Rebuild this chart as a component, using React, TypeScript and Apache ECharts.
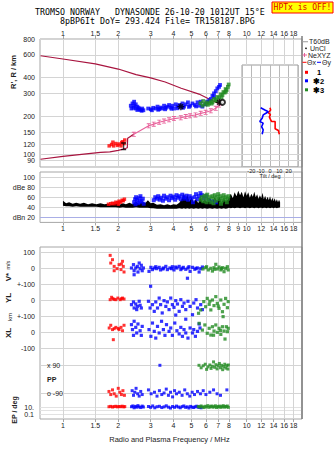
import React, { useEffect, useRef } from "react";
import * as echarts from "echarts";

type P = [number, number];

// ---------- axis ticks ----------
const freqTicks = [1, 1.5, 2, 3, 4, 5, 6, 7, 8, 10, 12, 14, 16, 18];
const freqTicksAmp = [1, 1.5, 2, 3, 4, 5, 6, 7, 8, 9, 10, 12, 14, 16, 18];
const rangeTicks = [80, 90, 100, 120, 150, 200, 300, 400, 600, 800];
const ampTicks = [20, 40, 60, 80, 100];

// ---------- height traces (MHz, km) ----------
const virtualTrace: P[] = [[0.755, 592], [1.0, 558], [1.5, 512], [2.0, 466], [2.5, 422], [3.0, 397], [3.6, 369], [4.4, 330], [5.5, 297], [6.4, 267], [7.06, 250], [7.15, 253]];
const profileTrace: P[] = [[0.755, 92], [1.0, 97], [1.3, 101], [1.6, 104], [1.8, 105], [2.0, 108], [2.2, 112], [2.24, 113], [2.25, 134], [2.35, 140], [2.43, 144]];
const neXYZ: P[] = [[2.43, 144], [2.93, 168], [3.12, 173], [3.34, 179], [3.55, 183], [3.78, 187], [4.02, 191], [4.38, 194], [4.66, 198], [4.92, 201], [5.26, 204], [5.62, 210], [5.98, 214], [6.38, 220], [6.79, 230], [7.06, 244], [7.15, 253]];
const peakMarks: P[] = [[4.38, 237], [7.1, 256]];
const peakRing: P[] = [[7.38, 256]];
const layerMark: P[] = [[2.14, 116]];

// ---------- echoes: range (MHz, km) ----------
const rangeRed: P[] = [[1.785, 117], [1.84, 120], [1.87, 125], [1.886, 117], [1.94, 122], [1.98, 118], [2.02, 121], [2.07, 117], [2.09, 124], [2.11, 126], [2.15, 122], [2.17, 130]];
const rangeBlue: P[] = [
  [2.34, 241], [2.39, 251], [2.44, 259], [2.49, 247], [2.42, 232], [2.36, 229], [2.49, 229], [2.54, 237], [2.6, 227], [2.65, 223], [2.7, 229], [2.74, 222], [2.54, 223], [2.44, 241], [2.58, 232], [2.68, 220],
  [2.91, 229], [3.01, 226], [3.1, 232], [3.2, 229], [3.27, 237], [3.34, 227], [3.4, 233], [3.47, 229], [3.55, 241], [3.63, 232], [3.7, 237], [3.78, 244], [3.86, 233], [3.94, 241], [4.02, 229], [4.11, 247], [4.2, 237], [4.29, 244], [4.38, 238], [4.47, 251], [4.56, 237], [4.66, 247], [4.79, 256], [4.92, 241], [5.07, 251], [5.22, 244], [5.4, 256], [5.51, 241], [5.62, 259], [5.74, 237], [5.98, 247],
  [3.05, 222], [3.3, 224], [3.6, 226], [3.9, 228], [4.2, 230], [4.5, 232], [4.85, 236], [5.3, 238],
  [6.1, 259], [6.25, 265], [6.38, 272], [6.51, 288], [6.64, 282], [6.64, 301], [6.79, 313], [6.92, 329], [7.07, 338], [7.16, 350],
];
const rangeGreen: P[] = [[5.6, 252], [5.74, 241], [5.8, 262], [5.92, 247], [6.07, 256], [6.15, 245], [6.25, 251], [6.38, 262], [6.45, 250], [6.51, 256], [6.64, 272], [6.79, 267], [6.85, 262], [6.92, 282], [7.07, 278], [7.23, 296], [7.3, 280], [7.38, 292], [7.47, 308], [7.59, 305], [7.68, 325], [7.7, 310], [7.78, 320], [7.9, 338], [7.98, 353]];

// ---------- tilt (deg, km) ----------
const tiltX: P[] = [[0, 232], [0.7, 223], [-1.8, 212], [0.5, 205], [-0.7, 197], [0.7, 186], [1.8, 181], [5.5, 181], [5.5, 159], [9, 154], [10, 144]];
const tiltY: P[] = [[-10, 232], [-5.5, 223], [-1.8, 216], [-4.4, 210], [-7.3, 204], [-8.4, 192], [-11, 181], [-7.3, 176], [-9, 165], [-7.3, 156], [-8.4, 144]];

// ---------- amplitude (MHz, dB) ----------
const ampRed: P[] = [[1.77, 46], [1.82, 47], [1.86, 48], [1.9, 47], [1.94, 50], [1.98, 49], [2.0, 46], [2.02, 52], [2.06, 50], [2.1, 54], [2.13, 53], [2.16, 56]];
const ampBlue: P[] = [
  [2.44, 50], [2.47, 56], [2.5, 60], [2.53, 54], [2.57, 48], [2.6, 58], [2.64, 62], [2.68, 52], [2.72, 57], [2.75, 47], [2.48, 46], [2.62, 51],
  [3.12, 54], [3.18, 60], [3.25, 57], [3.3, 62], [3.36, 55], [3.42, 59], [3.5, 53], [3.55, 63], [3.62, 57], [3.7, 60], [3.78, 54], [3.85, 63], [3.92, 58], [4.0, 61], [4.08, 55], [4.15, 64], [4.22, 59], [4.3, 62], [4.38, 56], [4.46, 65], [4.55, 60], [4.62, 57], [4.7, 63],
  [4.8, 55], [4.9, 62], [5.0, 58], [5.1, 50], [5.2, 60], [5.3, 66], [5.4, 56], [5.5, 62], [5.6, 68], [5.7, 64], [5.85, 58], [6.0, 62], [6.2, 55], [6.5, 52], [6.8, 50],
];
const ampGreen: P[] = [[5.62, 55], [5.7, 60], [5.8, 52], [5.9, 63], [6.0, 58], [6.05, 50], [6.1, 65], [6.2, 54], [6.3, 60], [6.4, 50], [6.5, 62], [6.6, 57], [6.6, 48], [6.7, 64], [6.8, 53], [6.9, 60], [7.0, 66], [7.1, 56], [7.2, 62], [7.25, 47], [7.3, 52], [7.4, 58], [7.5, 64], [7.6, 55], [7.7, 60], [7.8, 50], [7.9, 57], [7.95, 62]];
// receiver noise floor: MHz, low dB, high dB
const noise: [number, number, number][] = [
  [1.0, 43, 53], [1.04, 42, 48], [1.08, 42, 50], [1.13, 41, 47], [1.18, 42, 49], [1.24, 41, 47], [1.3, 41, 49], [1.37, 41, 46], [1.44, 41, 48], [1.52, 41, 46], [1.6, 40, 48], [1.68, 40, 46], [1.76, 40, 47], [1.85, 40, 45], [1.94, 40, 47], [2.03, 39, 45], [2.12, 40, 48], [2.2, 39, 46], [2.3, 39, 49], [2.4, 39, 46], [2.5, 40, 51], [2.6, 39, 47], [2.7, 39, 52], [2.8, 39, 48], [2.9, 39, 54], [3.0, 38, 48],
  [3.1, 38, 49], [3.25, 37, 45], [3.4, 37, 46], [3.55, 37, 44], [3.7, 37, 46], [3.85, 37, 44], [4.0, 37, 46], [4.15, 37, 45], [4.3, 38, 49], [4.45, 37, 58], [4.55, 38, 68], [4.65, 37, 56], [4.75, 38, 66], [4.88, 37, 52], [5.0, 38, 60], [5.15, 37, 50], [5.3, 38, 57], [5.45, 37, 48], [5.6, 38, 62], [5.75, 37, 50], [5.9, 38, 56], [6.1, 37, 50], [6.3, 38, 58], [6.5, 37, 51], [6.7, 38, 60], [6.9, 37, 52], [7.1, 38, 62], [7.3, 37, 50], [7.5, 38, 58], [7.7, 37, 52], [7.9, 38, 56],
  [8.0, 39, 60], [8.2, 38, 67], [8.4, 39, 58], [8.6, 38, 70], [8.8, 39, 62], [9.0, 39, 73], [9.2, 38, 64], [9.4, 39, 71], [9.6, 39, 60], [9.8, 38, 72], [10.0, 39, 63], [10.2, 39, 70], [10.4, 38, 59], [10.6, 39, 67], [10.8, 39, 61], [11.0, 38, 71], [11.2, 39, 60], [11.4, 39, 66], [11.6, 38, 57], [11.8, 39, 64], [12.0, 39, 58], [12.2, 38, 69], [12.4, 39, 56], [12.6, 39, 63], [12.8, 38, 55], [13.0, 39, 61], [13.2, 39, 54], [13.4, 38, 62], [13.6, 39, 53], [13.8, 39, 59], [14.0, 38, 52], [14.2, 39, 58], [14.4, 39, 51], [14.6, 38, 56], [14.8, 39, 50], [15.0, 39, 55], [15.2, 40, 50],
];

// ---------- Doppler velocity V* (MHz, m/s) ----------
const vRed: P[] = [[1.807, 79], [1.86, 52], [1.82, 31], [1.9, 10], [1.9, -17], [1.97, -4], [2.02, 21], [2.07, -10], [2.08, 25], [2.13, 10], [2.15, -25], [2.11, 42]];
const vBlue: P[] = [
  [2.36, 0], [2.42, 21], [2.44, -17], [2.49, 0], [2.54, 10], [2.56, -25], [2.63, -4], [2.67, 17], [2.7, -17], [2.44, -42], [2.6, 31], [2.74, 0],
  [2.94, -21], [3.01, 4], [3.07, -10], [3.14, 0], [3.2, 8], [3.24, -4], [3.34, 4], [3.4, -12], [3.5, -6], [3.52, 0], [3.63, 10], [3.7, -10], [3.82, 0], [3.9, -4], [3.94, 8], [4.02, -12], [4.1, 6], [4.17, 0], [4.29, 10], [4.38, -10], [4.45, -2], [4.52, 4], [4.66, -8], [4.76, -64], [4.79, 0], [4.85, 8], [4.92, -21], [5.07, 4], [5.22, -8], [5.3, -2], [5.4, 0], [5.51, -25], [5.62, -4], [5.74, 6],
];
const vGreen: P[] = [[5.78, -6], [5.98, 2], [6.18, -12], [6.38, -2], [6.51, -19], [6.64, 2], [6.79, 23], [6.92, -6], [7.07, 6], [7.23, -12], [7.38, 2], [7.53, -23], [7.68, -2], [7.85, 8], [7.93, -12], [6.05, 8], [6.7, -8], [7.3, -4]];

// ---------- horizontal location YL, XL (MHz, km) ----------
const ylRed: P[] = [[1.807, 2], [1.84, 17], [1.87, 8], [1.9, 4], [1.94, 2], [1.99, 12], [2.05, 2], [2.08, 8], [2.11, 12], [2.15, 6]];
const ylBlue: P[] = [
  [2.36, -29], [2.42, -12], [2.44, -50], [2.49, -25], [2.54, -40], [2.6, -8], [2.63, -33], [2.67, -50], [2.52, -60], [3.0, 86],
  [2.92, -8], [2.98, -50], [3.07, -29], [3.14, -71], [3.2, -12], [3.27, -50], [3.34, 12], [3.4, -29], [3.47, -81], [3.55, -4], [3.63, -40], [3.7, -12], [3.78, -60], [3.86, 12], [3.94, -29], [4.02, -46], [4.11, -4], [4.11, -94], [4.2, -25], [4.29, -71], [4.38, 2], [4.47, -40], [4.56, -19], [4.66, -60], [4.66, -120], [4.79, -8], [4.92, -40], [5.07, -92], [5.15, -19], [5.3, 2], [5.4, -50], [5.62, -29], [5.74, -60],
];
const ylGreen: P[] = [[5.47, -83], [5.62, -62], [5.84, -10], [5.98, -42], [6.1, 10], [6.25, -27], [6.38, -62], [6.51, 0], [6.64, -35], [6.79, 21], [6.92, -21], [7.07, -52], [7.23, 0], [7.38, -73], [7.44, -104], [7.53, -27], [7.68, 10], [7.85, -48], [7.93, -10], [6.3, -8], [7.0, -38]];
const xlRed: P[] = [[1.785, 25], [1.82, 42], [1.86, 15], [1.9, 21], [1.94, 29], [2.0, 22], [2.02, 15], [2.07, 29], [2.11, 8], [2.15, 42], [1.88, -48]];
const xlBlue: P[] = [
  [2.36, 46], [2.39, 15], [2.44, 67], [2.49, 29], [2.52, -6], [2.56, 50], [2.63, 8], [2.67, -21], [2.7, 35], [2.42, -21],
  [2.94, 15], [3.01, -27], [3.07, 56], [3.14, 4], [3.2, -38], [3.27, 35], [3.34, -6], [3.44, 67], [3.52, 15], [3.59, -21], [3.66, 46], [3.78, 4], [3.86, 25], [3.94, -21], [4.06, 56], [4.17, 8], [4.29, -12], [4.38, 29], [4.47, -27], [4.56, 15], [4.66, -6], [4.79, -38], [4.92, 25], [5.07, -6], [5.15, 15], [5.26, -27], [5.4, 4], [5.51, 50], [5.57, 25],
];
const xlGreen: P[] = [[5.51, 54], [5.74, 12], [5.92, 44], [6.1, -8], [6.25, 23], [6.38, -19], [6.51, 33], [6.64, 6], [6.79, 44], [6.92, -2], [7.07, 23], [7.23, -15], [7.38, 33], [7.53, 6], [7.62, -44], [7.75, 33], [7.85, 2], [7.93, 23], [6.6, -20], [7.2, 10]];

// ---------- polarization PP (MHz, deg) ----------
const ppRed: P[] = [[1.78, -80], [1.82, -100], [1.86, -70], [1.9, -95], [1.95, -110], [2.0, -60], [2.04, -85], [2.08, -100], [2.12, -75], [2.16, -105]];
const ppBlue: P[] = [[2.38, -75], [2.42, -105], [2.46, -85], [2.5, -60], [2.55, -95], [2.6, -110], [2.65, -80], [2.7, -100], [2.92, -70], [3.02, -95], [3.15, -85], [3.25, -110], [3.35, -75], [3.37, 88], [3.45, -100], [3.55, -90], [3.65, -65], [3.75, -105], [3.85, -85], [3.95, -115], [4.05, -75], [4.15, -95], [4.3, -85], [4.45, -105], [4.6, -70], [4.75, -95], [4.9, -110], [5.05, -85], [5.2, -100], [5.4, -80], [5.6, -95], [5.8, -75], [6.0, -100], [6.3, -85], [6.6, -70], [6.9, -95], [7.2, -105], [7.8, -70]];
const ppGreen: P[] = [[5.5, 88], [5.65, 72], [5.8, 85], [5.95, 95], [6.05, 62], [6.15, 78], [6.3, 90], [6.4, 68], [6.5, 82], [6.6, 110], [6.7, 75], [6.8, 92], [6.9, 65], [7.0, 85], [7.1, 100], [7.2, 72], [7.3, 88], [7.4, 60], [7.5, 80], [7.6, 95], [7.7, 70], [7.8, 86], [7.9, 64], [7.95, 90]];

// ---------- error of polarization EP (MHz, deg) ----------
const epRed: P[] = [[1.78, 12], [1.82, 15], [1.86, 10], [1.9, 13], [1.94, 16], [1.98, 11], [2.02, 14], [2.06, 12], [2.1, 17], [2.14, 11], [2.17, 13]];
const epBlue: P[] = [[2.36, 12], [2.4, 20], [2.44, 6], [2.48, 15], [2.52, 9], [2.56, 25], [2.6, 11], [2.65, 7], [2.7, 18], [2.74, 10], [2.92, 14], [3.0, 8], [3.08, 20], [3.16, 6], [3.25, 12], [3.35, 16], [3.45, 7], [3.55, 11], [3.65, 22], [3.75, 9], [3.85, 5], [3.95, 14], [4.05, 8], [4.15, 18], [4.25, 10], [4.35, 6], [4.45, 13], [4.55, 20], [4.65, 8], [4.75, 11], [4.85, 5], [4.95, 15], [5.05, 9], [5.15, 7], [5.25, 12], [5.35, 17], [5.45, 8], [5.55, 10], [5.65, 6]];
const epGreen: P[] = [[5.45, 14], [5.55, 9], [5.65, 20], [5.75, 11], [5.85, 7], [5.95, 16], [6.05, 10], [6.15, 25], [6.25, 8], [6.35, 13], [6.45, 19], [6.55, 9], [6.65, 12], [6.75, 22], [6.85, 7], [6.95, 15], [7.05, 10], [7.15, 18], [7.25, 8], [7.35, 13], [7.45, 24], [7.55, 9], [7.65, 15], [7.75, 11], [7.85, 19], [7.95, 8]];

// ---------- styling ----------
const GRIDC = "#d4d4d4";
const FRAME = "#a6a6a6";
const TXT = "#222";
const SANS = "'Liberation Sans', Arial, sans-serif";
const MONO = "'DejaVu Sans Mono', 'Liberation Mono', monospace";
const RED = "#ff0000";
const BLUE = "#0000ff";
const GREEN = "#228b22";
const CRIMSON = "#a8143f";
const PINK = "#e8609a";

const I_SYMBOL = "path://M0,0H6V1.4H3.7V6.6H6V8H0V6.6H2.3V1.4H0Z";
const STAR_SYMBOL =
  "path://M4,0h2v10h-2z M0,4h10v2h-10z M1,2.4L2.4,1L9,7.6L7.6,9z M7.6,1L9,2.4L2.4,9L1,7.6z";

function marks(data: any[], z = 1) {
  return {
    silent: true,
    symbol: "none",
    animation: false,
    label: { show: false },
    emphasis: { disabled: true },
    lineStyle: { color: GRIDC, width: 1, type: "solid" },
    data,
    z,
  };
}

function holder(xi: number, yi: number, data: any[]) {
  return { type: "line", xAxisIndex: xi, yAxisIndex: yi, data: [], silent: true, z: 1, markLine: marks(data) };
}

function echo(data: P[], color: string, idx: number, size = 3.5, z = 4) {
  return {
    type: "scatter", xAxisIndex: idx, yAxisIndex: idx, data, symbol: "rect", symbolSize: size,
    itemStyle: { color }, z, silent: true, clip: false,
  };
}

function logX(grid: number, extra: any = {}) {
  return {
    type: "log", gridIndex: grid, min: 0.75, max: 20, logBase: 10,
    axisLine: { show: false }, axisTick: { show: false }, axisLabel: { show: false }, splitLine: { show: false },
    ...extra,
  };
}

function freqLabels(ticks: number[], margin: number) {
  return {
    axisTick: { show: true, customValues: ticks, length: 3, lineStyle: { color: FRAME } },
    axisLabel: { show: true, customValues: ticks, fontSize: 7, color: TXT, margin, fontFamily: SANS, formatter: (v: number) => String(v) },
  };
}

function band(grid: number, min: number, max: number, interval: number, fmt: (v: number) => string, extra: any = {}) {
  return {
    type: "value", gridIndex: grid, min, max, interval,
    axisLine: { show: false }, axisTick: { show: false },
    axisLabel: { fontSize: 7, color: TXT, margin: 5, fontFamily: SANS, formatter: fmt },
    splitLine: { show: true, lineStyle: { color: GRIDC, width: 1 } },
    ...extra,
  };
}

function text(x: number, y: number, t: string, font: string, extra: any = {}, fill = TXT, align = "left", styleExtra: any = {}) {
  return { type: "text", x, y, z: 50, silent: true, style: { text: t, font, fill, align, verticalAlign: "middle", ...styleExtra }, ...extra };
}

function buildOption(): any {
  const lowGrid = (top: number, height: number) => ({ left: 40, top, width: 262, height, outerBoundsMode: "none" });

  // frequency grid lines in top panel; 10 MHz and above stop at the tilt inset
  const topLines: any[] = [
    ...freqTicks.filter((f) => f < 10).map((f) => ({ xAxis: f })),
    ...freqTicks.filter((f) => f >= 10).map((f) => [{ coord: [f, 500] }, { coord: [f, 800] }]),
    ...rangeTicks.map((r) => ({ yAxis: r })),
  ];
  const ampLines: any[] = [
    ...freqTicks.map((f) => ({ xAxis: f })),
    ...ampTicks.map((a) => (a === 20 ? { yAxis: a, lineStyle: { color: "#a9aee6", width: 1.2 } } : { yAxis: a })),
  ];
  const lowLines: any[] = freqTicks.map((f) => ({ xAxis: f }));

  const line = (data: P[], color: string, xi: number, width = 1.2, z = 3, extra: any = {}) => ({
    type: "line", xAxisIndex: xi, yAxisIndex: xi, data, showSymbol: false, symbol: "none",
    lineStyle: { color, width }, itemStyle: { color }, z, silent: true, ...extra,
  });

  return {
    animation: false,
    backgroundColor: "#fff",
    textStyle: { fontFamily: SANS },
    grid: [
      { left: 40, top: 39, width: 262, height: 128, show: true, borderColor: FRAME, borderWidth: 1, outerBoundsMode: "none" },
      { left: 242, top: 65, width: 56, height: 102, show: true, borderColor: "#9a9a9a", borderWidth: 1, outerBoundsMode: "none" },
      { left: 40, top: 172, width: 262, height: 50.4, show: true, borderColor: FRAME, borderWidth: 1, outerBoundsMode: "none" },
      { left: 40, top: 247, width: 262, height: 172, show: true, borderColor: FRAME, borderWidth: 1, outerBoundsMode: "none" },
      lowGrid(252, 32),
      lowGrid(284, 32),
      lowGrid(316, 32),
      lowGrid(365, 28),
      lowGrid(407, 7),
    ],
    xAxis: [
      logX(0, { position: "top", ...freqLabels(freqTicks, 2) }),
      {
        type: "value", gridIndex: 1, min: -30, max: 30, interval: 10,
        axisLine: { show: false }, axisTick: { show: false },
        axisLabel: { fontSize: 5.5, color: TXT, margin: 1, fontFamily: SANS, formatter: (v: number) => (Math.abs(v) >= 30 ? "" : String(v)) },
        splitLine: { show: true, lineStyle: { color: "#b9b9b9", width: 1 } },
      },
      logX(2, { position: "bottom", ...freqLabels(freqTicksAmp, 3) }),
      logX(3, { position: "bottom", ...freqLabels(freqTicks, 3) }),
      logX(4), logX(5), logX(6), logX(7), logX(8),
    ],
    yAxis: [
      {
        type: "log", gridIndex: 0, min: 80, max: 800, logBase: 10,
        axisLine: { show: false }, axisTick: { show: false }, splitLine: { show: false },
        axisLabel: { customValues: rangeTicks, fontSize: 7, color: TXT, margin: 5, fontFamily: SANS, formatter: (v: number) => String(v) },
      },
      { type: "log", gridIndex: 1, min: 80, max: 500, logBase: 10, show: false },
      {
        type: "value", gridIndex: 2, min: 10, max: 110,
        axisLine: { show: false }, axisTick: { show: false }, splitLine: { show: false },
        axisLabel: {
          customValues: ampTicks, fontSize: 7, color: TXT, margin: 5, fontFamily: SANS,
          formatter: (v: number) => (v === 80 ? "dBe 80" : v === 20 ? "dBn 20" : String(v)),
        },
      },
      { type: "value", gridIndex: 3, min: 0, max: 1, show: false },
      band(4, -100, 100, 100, (v) => (v === 100 ? "100" : v === 0 ? "0" : "")),
      band(5, -100, 100, 100, (v) => (v === 100 ? "+-100" : v === 0 ? "0" : "")),
      band(6, -100, 100, 100, (v) => (v === 100 ? "+-100" : v === 0 ? "0" : "-100")),
      band(7, -90, 90, 180, (v) => (v === 90 ? "x 90" : "o -90"), {
        axisLabel: { inside: true, fontSize: 7, color: TXT, margin: 7, fontFamily: SANS, formatter: (v: number) => (v === 90 ? "x 90" : "o -90") },
      }),
      {
        type: "log", gridIndex: 8, min: 0.1, max: 10, logBase: 10,
        axisLine: { show: false }, axisTick: { show: false },
        splitLine: { show: true, lineStyle: { color: "#e2e2e2", width: 1 } },
        axisLabel: {
          customValues: [0.1, 10], fontSize: 7, color: TXT, margin: 6, fontFamily: SANS,
          formatter: (v: number) => (v > 5 ? "10." : "0.1"),
        },
      },
    ],
    series: [
      holder(0, 0, topLines),
      holder(2, 2, ampLines),
      holder(3, 3, lowLines),

      // ionogram panel
      line(virtualTrace, CRIMSON, 0),
      line(profileTrace, CRIMSON, 0),
      line(neXYZ, PINK, 0, 1.1, 3, { showSymbol: true, symbol: I_SYMBOL, symbolSize: [4, 5], itemStyle: { color: PINK } }),
      echo(rangeRed, RED, 0),
      echo(rangeBlue, BLUE, 0, 3.8),
      echo(rangeGreen, GREEN, 0, 3.8),
      { type: "scatter", xAxisIndex: 0, yAxisIndex: 0, data: layerMark, symbol: I_SYMBOL, symbolSize: [5, 8], itemStyle: { color: "#000" }, z: 6, silent: true },
      { type: "scatter", xAxisIndex: 0, yAxisIndex: 0, data: peakMarks, symbol: STAR_SYMBOL, symbolSize: 7, itemStyle: { color: "#000" }, z: 6, silent: true },
      { type: "scatter", xAxisIndex: 0, yAxisIndex: 0, data: peakRing, symbol: "emptyCircle", symbolSize: 5, itemStyle: { color: "#000", borderWidth: 1.2 }, z: 6, silent: true },

      // tilt inset
      line(tiltX, RED, 1, 1.6, 5),
      line(tiltY, BLUE, 1, 1.6, 5),

      // amplitude panel
      {
        type: "custom", xAxisIndex: 2, yAxisIndex: 2, data: [[1, 45]], z: 3, silent: true,
        renderItem: (_p: any, api: any) => {
          const upper = noise.map(([f, , hi]) => api.coord([f, hi]));
          const lower = noise.slice().reverse().map(([f, lo]) => api.coord([f, lo]));
          return { type: "polygon", shape: { points: upper.concat(lower) }, style: { fill: "#000" } };
        },
      },
      echo(ampRed, RED, 2),
      echo(ampBlue, BLUE, 2, 4),
      echo(ampGreen, GREEN, 2, 4),

      // V*, YL, XL, PP, EP bands
      echo(vRed, RED, 4, 3),
      echo(vBlue, BLUE, 4, 3.2),
      echo(vGreen, GREEN, 4, 3.2),
      echo(ylRed, RED, 5, 3),
      echo(ylBlue, BLUE, 5, 3.2),
      echo(ylGreen, GREEN, 5, 3.2),
      echo(xlRed, RED, 6, 3),
      echo(xlBlue, BLUE, 6, 3.2),
      echo(xlGreen, GREEN, 6, 3.2),
      echo(ppRed, RED, 7, 3),
      echo(ppBlue, BLUE, 7, 3),
      echo(ppGreen, GREEN, 7, 3),
      echo(epRed, RED, 8, 3),
      echo(epBlue, BLUE, 8, 3),
      echo(epGreen, GREEN, 8, 3),
    ],
    graphic: [
      // header
      text(35, 12, "TROMSO NORWAY   DYNASONDE 26-10-20 1012UT 15°E", `8.3px ${MONO}`, {}, "#000", "left", { lineHeight: 7.5 }),
      text(60, 20.5, "8pBP6It DoY= 293.424 File= TR158187.BPG", `8.3px ${MONO}`, {}, "#000", "left", { lineHeight: 7.5 }),
      { type: "rect", z: 50, silent: true, shape: { x: 272, y: 2, width: 61, height: 11 }, style: { fill: "#ffff00", stroke: "#ff0000", lineWidth: 1 } },
      text(302.5, 7.8, "HPTx is OFF!", `8px ${MONO}`, {}, "#e00000", "center", { lineHeight: 8 }),

      // right frame edge
      { type: "line", z: 40, silent: true, shape: { x1: 302, y1: 36, x2: 302, y2: 419 }, style: { stroke: "#7d7d7d", lineWidth: 1.5 } },

      // legend
      { type: "line", z: 50, silent: true, shape: { x1: 302.5, y1: 41.7, x2: 308, y2: 41.7 }, style: { stroke: "#aaa", lineWidth: 1.2 } },
      text(309, 41.7, "T60dB", `7px ${SANS}`),
      { type: "circle", z: 50, silent: true, shape: { cx: 306, cy: 48.3, r: 0.8 }, style: { fill: "#000" } },
      text(310, 48.3, "UnCl", `7px ${SANS}`),
      { type: "line", z: 50, silent: true, shape: { x1: 302.5, y1: 55, x2: 307, y2: 55 }, style: { stroke: PINK, lineWidth: 1 } },
      { type: "line", z: 50, silent: true, shape: { x1: 304.5, y1: 53, x2: 304.5, y2: 57 }, style: { stroke: PINK, lineWidth: 1 } },
      text(308, 55, "NeXYZ", `7px ${SANS}`),
      { type: "line", z: 50, silent: true, shape: { x1: 302.5, y1: 62.3, x2: 306.5, y2: 62.3 }, style: { stroke: RED, lineWidth: 1 } },
      text(307, 62.3, "Θx", `7px ${SANS}`),
      { type: "line", z: 50, silent: true, shape: { x1: 317, y1: 62.3, x2: 321, y2: 62.3 }, style: { stroke: BLUE, lineWidth: 1 } },
      text(322, 62.3, "Θy", `7px ${SANS}`),
      { type: "rect", z: 50, silent: true, shape: { x: 305, y: 70.8, width: 3, height: 3 }, style: { fill: RED } },
      text(319, 72.3, "1", `bold 7.5px ${SANS}`, {}, "#000", "center"),
      { type: "rect", z: 50, silent: true, shape: { x: 305, y: 79.3, width: 3, height: 3 }, style: { fill: BLUE } },
      text(313, 81, "✱2", `bold 7.5px ${SANS}`, {}, "#000"),
      { type: "rect", z: 50, silent: true, shape: { x: 305, y: 88.3, width: 3, height: 3 }, style: { fill: GREEN } },
      text(313, 90, "✱3", `bold 7.5px ${SANS}`, {}, "#000"),

      // axis titles
      text(13, 72, "R', R / km", `bold 7.5px ${SANS}`, { rotation: Math.PI / 2 }, TXT, "center"),
      text(270, 176, "Tilt / deg", `5.5px ${SANS}`, {}, TXT, "center"),
      {
        type: "text", x: 8, y: 271, rotation: Math.PI / 2, z: 50, silent: true,
        style: {
          text: "{a|V*} {b|m/s}", align: "center", verticalAlign: "middle",
          rich: { a: { font: `bold 8px ${SANS}`, fill: TXT }, b: { font: `5.5px ${SANS}`, fill: TXT } },
        },
      },
      text(8, 298, "YL", `bold 8px ${SANS}`, { rotation: Math.PI / 2 }, TXT, "center"),
      text(10, 317, "km", `6px ${SANS}`, { rotation: Math.PI / 2 }, TXT, "center"),
      text(8, 333, "XL", `bold 8px ${SANS}`, { rotation: Math.PI / 2 }, TXT, "center"),
      text(47, 379, "PP", `bold 7px ${SANS}`),
      text(14, 410, "EP / deg", `bold 7px ${SANS}`, { rotation: Math.PI / 2 }, TXT, "center"),
      text(169.5, 439, "Radio and Plasma Frequency / MHz", `7.5px ${SANS}`, {}, TXT, "center"),
    ],
  };
}

export default function App() {
  const ref = useRef<HTMLDivElement>(null);
  useEffect(() => {
    if (!ref.current) return;
    const chart = echarts.init(ref.current, null, { renderer: "svg" });
    chart.setOption(buildOption());
    return () => chart.dispose();
  }, []);
  return <div ref={ref} style={{ position: "absolute", left: 0, top: 0, width: 335, height: 451, background: "#fff" }} />;
}
